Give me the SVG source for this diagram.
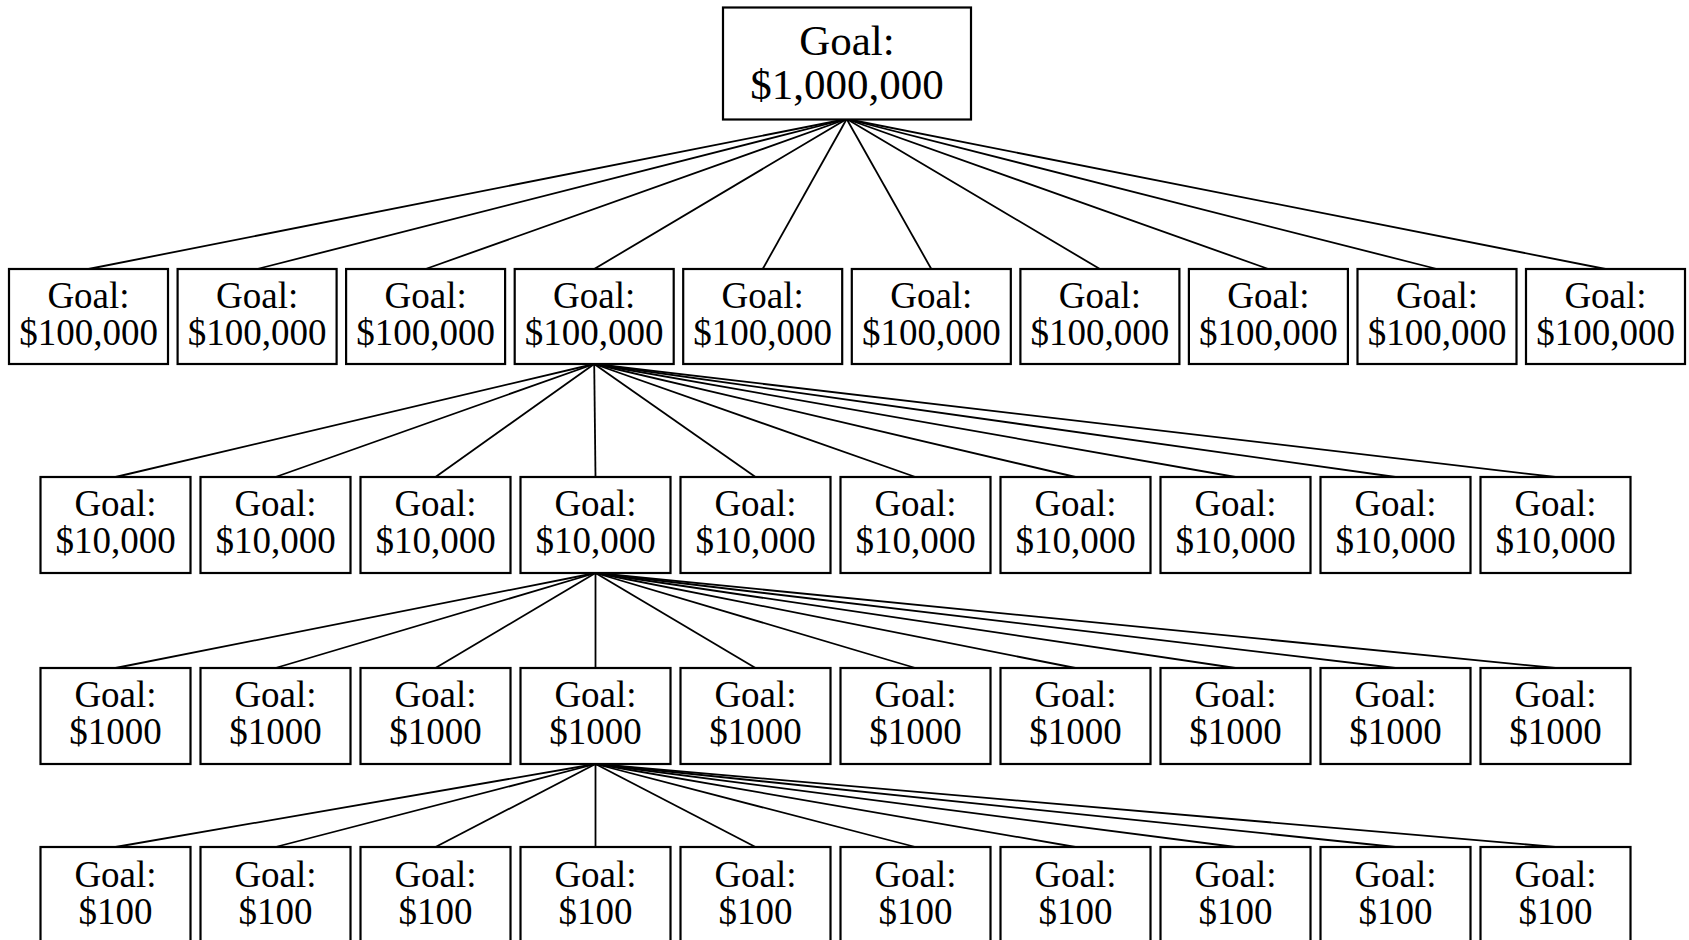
<svg xmlns="http://www.w3.org/2000/svg" width="1689" height="940" viewBox="0 0 1689 940">
<style>
rect{fill:#fff;stroke:#000;stroke-width:2.2}
text{font-family:"Liberation Serif","Times New Roman",serif;fill:#000;text-anchor:middle;font-size:37px}
text.big{font-size:43px}
#connectors line{stroke:#000;stroke-width:1.8}
</style>
<rect x="0" y="0" width="1689" height="940" style="stroke:none"/>
<g id="connectors">
<line x1="846.7" y1="119" x2="88.5" y2="269"/>
<line x1="846.7" y1="119" x2="257.1" y2="269"/>
<line x1="846.7" y1="119" x2="425.6" y2="269"/>
<line x1="846.7" y1="119" x2="594.2" y2="269"/>
<line x1="846.7" y1="119" x2="762.7" y2="269"/>
<line x1="846.7" y1="119" x2="931.3" y2="269"/>
<line x1="846.7" y1="119" x2="1099.9" y2="269"/>
<line x1="846.7" y1="119" x2="1268.4" y2="269"/>
<line x1="846.7" y1="119" x2="1437.0" y2="269"/>
<line x1="846.7" y1="119" x2="1605.5" y2="269"/>
<line x1="594.2" y1="364" x2="115.5" y2="477"/>
<line x1="594.2" y1="364" x2="275.5" y2="477"/>
<line x1="594.2" y1="364" x2="435.5" y2="477"/>
<line x1="594.2" y1="364" x2="595.5" y2="477"/>
<line x1="594.2" y1="364" x2="755.5" y2="477"/>
<line x1="594.2" y1="364" x2="915.5" y2="477"/>
<line x1="594.2" y1="364" x2="1075.5" y2="477"/>
<line x1="594.2" y1="364" x2="1235.5" y2="477"/>
<line x1="594.2" y1="364" x2="1395.5" y2="477"/>
<line x1="594.2" y1="364" x2="1555.5" y2="477"/>
<line x1="595.5" y1="573" x2="115.5" y2="668"/>
<line x1="595.5" y1="573" x2="275.5" y2="668"/>
<line x1="595.5" y1="573" x2="435.5" y2="668"/>
<line x1="595.5" y1="573" x2="595.5" y2="668"/>
<line x1="595.5" y1="573" x2="755.5" y2="668"/>
<line x1="595.5" y1="573" x2="915.5" y2="668"/>
<line x1="595.5" y1="573" x2="1075.5" y2="668"/>
<line x1="595.5" y1="573" x2="1235.5" y2="668"/>
<line x1="595.5" y1="573" x2="1395.5" y2="668"/>
<line x1="595.5" y1="573" x2="1555.5" y2="668"/>
<line x1="595.5" y1="764" x2="115.5" y2="847"/>
<line x1="595.5" y1="764" x2="275.5" y2="847"/>
<line x1="595.5" y1="764" x2="435.5" y2="847"/>
<line x1="595.5" y1="764" x2="595.5" y2="847"/>
<line x1="595.5" y1="764" x2="755.5" y2="847"/>
<line x1="595.5" y1="764" x2="915.5" y2="847"/>
<line x1="595.5" y1="764" x2="1075.5" y2="847"/>
<line x1="595.5" y1="764" x2="1235.5" y2="847"/>
<line x1="595.5" y1="764" x2="1395.5" y2="847"/>
<line x1="595.5" y1="764" x2="1555.5" y2="847"/>
</g>
<g id="root"><rect x="723" y="7.5" width="248" height="112"/><text class="big" x="847" y="55">Goal:</text><text class="big" x="847" y="99">$1,000,000</text></g>
<g id="l1-1"><rect x="9" y="269" width="159" height="95"/><text x="88.5" y="308">Goal:</text><text x="88.5" y="345">$100,000</text></g>
<g id="l1-2"><rect x="177.6" y="269" width="159" height="95"/><text x="257.1" y="308">Goal:</text><text x="257.1" y="345">$100,000</text></g>
<g id="l1-3"><rect x="346.1" y="269" width="159" height="95"/><text x="425.6" y="308">Goal:</text><text x="425.6" y="345">$100,000</text></g>
<g id="l1-4"><rect x="514.7" y="269" width="159" height="95"/><text x="594.2" y="308">Goal:</text><text x="594.2" y="345">$100,000</text></g>
<g id="l1-5"><rect x="683.2" y="269" width="159" height="95"/><text x="762.7" y="308">Goal:</text><text x="762.7" y="345">$100,000</text></g>
<g id="l1-6"><rect x="851.8" y="269" width="159" height="95"/><text x="931.3" y="308">Goal:</text><text x="931.3" y="345">$100,000</text></g>
<g id="l1-7"><rect x="1020.4" y="269" width="159" height="95"/><text x="1099.9" y="308">Goal:</text><text x="1099.9" y="345">$100,000</text></g>
<g id="l1-8"><rect x="1188.9" y="269" width="159" height="95"/><text x="1268.4" y="308">Goal:</text><text x="1268.4" y="345">$100,000</text></g>
<g id="l1-9"><rect x="1357.5" y="269" width="159" height="95"/><text x="1437" y="308">Goal:</text><text x="1437" y="345">$100,000</text></g>
<g id="l1-10"><rect x="1526" y="269" width="159" height="95"/><text x="1605.5" y="308">Goal:</text><text x="1605.5" y="345">$100,000</text></g>
<g id="l2-1"><rect x="40.5" y="477" width="150" height="96"/><text x="115.5" y="516">Goal:</text><text x="115.5" y="553">$10,000</text></g>
<g id="l2-2"><rect x="200.5" y="477" width="150" height="96"/><text x="275.5" y="516">Goal:</text><text x="275.5" y="553">$10,000</text></g>
<g id="l2-3"><rect x="360.5" y="477" width="150" height="96"/><text x="435.5" y="516">Goal:</text><text x="435.5" y="553">$10,000</text></g>
<g id="l2-4"><rect x="520.5" y="477" width="150" height="96"/><text x="595.5" y="516">Goal:</text><text x="595.5" y="553">$10,000</text></g>
<g id="l2-5"><rect x="680.5" y="477" width="150" height="96"/><text x="755.5" y="516">Goal:</text><text x="755.5" y="553">$10,000</text></g>
<g id="l2-6"><rect x="840.5" y="477" width="150" height="96"/><text x="915.5" y="516">Goal:</text><text x="915.5" y="553">$10,000</text></g>
<g id="l2-7"><rect x="1000.5" y="477" width="150" height="96"/><text x="1075.5" y="516">Goal:</text><text x="1075.5" y="553">$10,000</text></g>
<g id="l2-8"><rect x="1160.5" y="477" width="150" height="96"/><text x="1235.5" y="516">Goal:</text><text x="1235.5" y="553">$10,000</text></g>
<g id="l2-9"><rect x="1320.5" y="477" width="150" height="96"/><text x="1395.5" y="516">Goal:</text><text x="1395.5" y="553">$10,000</text></g>
<g id="l2-10"><rect x="1480.5" y="477" width="150" height="96"/><text x="1555.5" y="516">Goal:</text><text x="1555.5" y="553">$10,000</text></g>
<g id="l3-1"><rect x="40.5" y="668" width="150" height="96"/><text x="115.5" y="707">Goal:</text><text x="115.5" y="744">$1000</text></g>
<g id="l3-2"><rect x="200.5" y="668" width="150" height="96"/><text x="275.5" y="707">Goal:</text><text x="275.5" y="744">$1000</text></g>
<g id="l3-3"><rect x="360.5" y="668" width="150" height="96"/><text x="435.5" y="707">Goal:</text><text x="435.5" y="744">$1000</text></g>
<g id="l3-4"><rect x="520.5" y="668" width="150" height="96"/><text x="595.5" y="707">Goal:</text><text x="595.5" y="744">$1000</text></g>
<g id="l3-5"><rect x="680.5" y="668" width="150" height="96"/><text x="755.5" y="707">Goal:</text><text x="755.5" y="744">$1000</text></g>
<g id="l3-6"><rect x="840.5" y="668" width="150" height="96"/><text x="915.5" y="707">Goal:</text><text x="915.5" y="744">$1000</text></g>
<g id="l3-7"><rect x="1000.5" y="668" width="150" height="96"/><text x="1075.5" y="707">Goal:</text><text x="1075.5" y="744">$1000</text></g>
<g id="l3-8"><rect x="1160.5" y="668" width="150" height="96"/><text x="1235.5" y="707">Goal:</text><text x="1235.5" y="744">$1000</text></g>
<g id="l3-9"><rect x="1320.5" y="668" width="150" height="96"/><text x="1395.5" y="707">Goal:</text><text x="1395.5" y="744">$1000</text></g>
<g id="l3-10"><rect x="1480.5" y="668" width="150" height="96"/><text x="1555.5" y="707">Goal:</text><text x="1555.5" y="744">$1000</text></g>
<g id="l4-1"><rect x="40.5" y="847" width="150" height="96"/><text x="115.5" y="887">Goal:</text><text x="115.5" y="924">$100</text></g>
<g id="l4-2"><rect x="200.5" y="847" width="150" height="96"/><text x="275.5" y="887">Goal:</text><text x="275.5" y="924">$100</text></g>
<g id="l4-3"><rect x="360.5" y="847" width="150" height="96"/><text x="435.5" y="887">Goal:</text><text x="435.5" y="924">$100</text></g>
<g id="l4-4"><rect x="520.5" y="847" width="150" height="96"/><text x="595.5" y="887">Goal:</text><text x="595.5" y="924">$100</text></g>
<g id="l4-5"><rect x="680.5" y="847" width="150" height="96"/><text x="755.5" y="887">Goal:</text><text x="755.5" y="924">$100</text></g>
<g id="l4-6"><rect x="840.5" y="847" width="150" height="96"/><text x="915.5" y="887">Goal:</text><text x="915.5" y="924">$100</text></g>
<g id="l4-7"><rect x="1000.5" y="847" width="150" height="96"/><text x="1075.5" y="887">Goal:</text><text x="1075.5" y="924">$100</text></g>
<g id="l4-8"><rect x="1160.5" y="847" width="150" height="96"/><text x="1235.5" y="887">Goal:</text><text x="1235.5" y="924">$100</text></g>
<g id="l4-9"><rect x="1320.5" y="847" width="150" height="96"/><text x="1395.5" y="887">Goal:</text><text x="1395.5" y="924">$100</text></g>
<g id="l4-10"><rect x="1480.5" y="847" width="150" height="96"/><text x="1555.5" y="887">Goal:</text><text x="1555.5" y="924">$100</text></g>
</svg>
